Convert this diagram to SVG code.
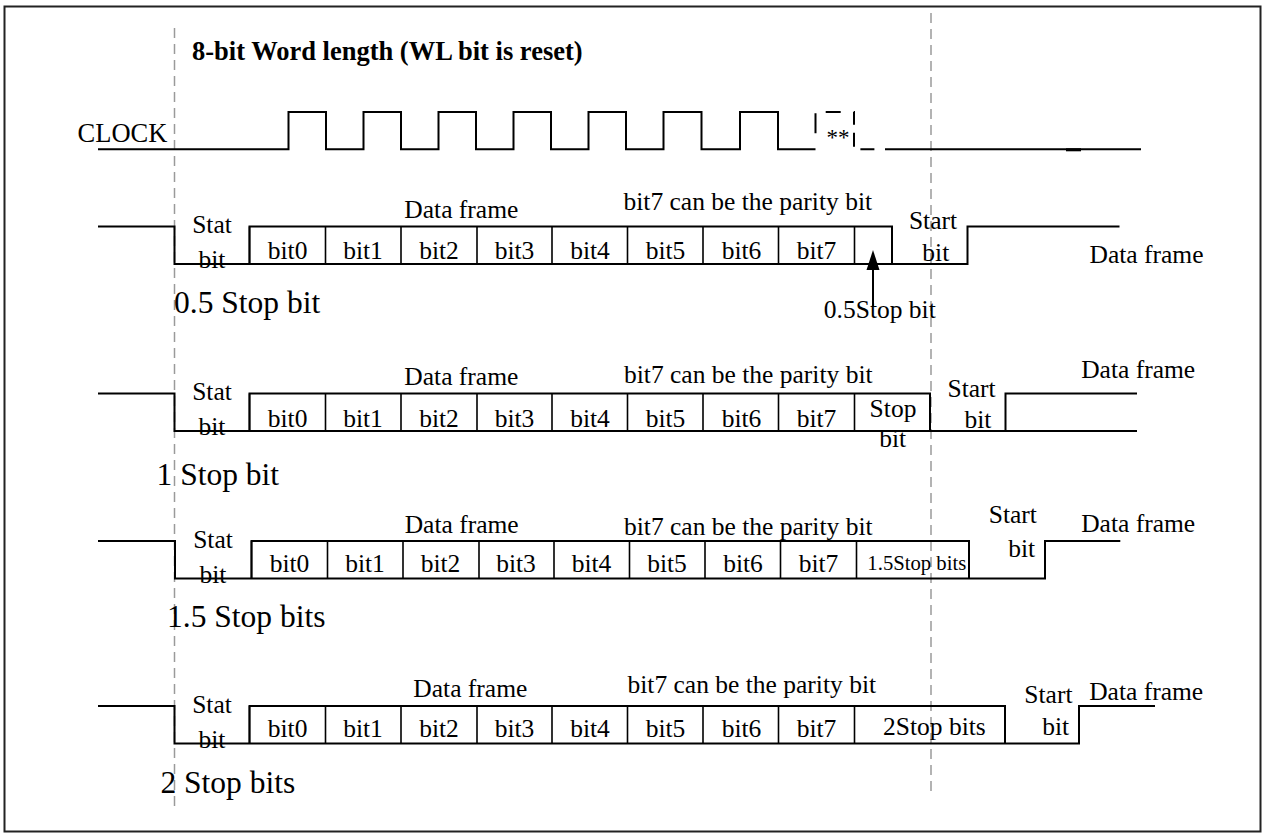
<svg xmlns="http://www.w3.org/2000/svg" width="1266" height="834" viewBox="0 0 1266 834">
<style>
.frame{fill:#fff;stroke:#222;stroke-width:2}
.w{fill:none;stroke:#000;stroke-width:2}
.d{fill:none;stroke:#000;stroke-width:1.6}
.g{fill:none;stroke:#9a9a9a;stroke-width:1.5;stroke-dasharray:10 6}
text{font-family:"Liberation Serif","Times New Roman",serif;fill:#000}
.t{font-size:25.5px}
.c{text-anchor:middle}
.L{font-size:31.5px}
.s{font-size:20.7px}
.h{font-size:26.5px;font-weight:bold}
</style>
<defs>
<path id="div8" d="M0,0 v37.5 M76,0 v37.5 M151.5,0 v37.5 M227.5,0 v37.5 M302.5,0 v37.5 M378,0 v37.5 M453.5,0 v37.5 M529,0 v37.5 M605,0 v37.5" class="d"/>
</defs>
<rect class="frame" x="4.5" y="6.5" width="1256" height="825"/>

<g id="guides">
<line class="g" x1="174.5" y1="28" x2="174.5" y2="809"/>
<line class="g" x1="931" y1="13" x2="931" y2="795"/>
</g>

<g id="title">
<text class="h" x="192" y="60">8-bit Word length (WL bit is reset)</text>
</g>

<g id="clock">
<text x="77.6" y="141.7" style="font-size:26.5px">CLOCK</text>
<path class="w" d="M98,149.3 H288.5 V112 H326 V149.3 H363.5 V112 H401 V149.3 H438.5 V112 H476 V149.3 H513.5 V112 H551 V149.3 H588.5 V112 H626 V149.3 H663.5 V112 H701.5 V149.3 H740 V112 H778 V149.3 H815.5"/>
<path class="w" d="M815.5,149.3 V112 H854 V149.3 H876" stroke-dasharray="0 16 20 11.5 15 13 13 8 14 9 14 60"/>
<text x="826.5" y="145" style="font-size:23px">**</text>
<path class="w" d="M885,149.3 H1141"/>
<line x1="1066" y1="149.8" x2="1081" y2="149.8" stroke="#000" stroke-width="3"/>
</g>

<g id="row1">
<path class="w" d="M98,226.5 H174.5 V264 H967.5 V226.5 H1119.5"/>
<path class="w" d="M249.5,264 V226.5 H892 V264"/>
<use href="#div8" x="249.5" y="226.5"/>
<text class="t c" x="212" y="233">Stat</text>
<text class="t c" x="212" y="268">bit</text>
<text class="t c" x="287.6" y="259">bit0</text>
<text class="t c" x="363" y="259">bit1</text>
<text class="t c" x="439" y="259">bit2</text>
<text class="t c" x="514.5" y="259">bit3</text>
<text class="t c" x="590" y="259">bit4</text>
<text class="t c" x="665.5" y="259">bit5</text>
<text class="t c" x="741.5" y="259">bit6</text>
<text class="t c" x="816.5" y="259">bit7</text>
<text class="t c" x="461.3" y="218.3">Data frame</text>
<text class="t" x="623.5" y="210">bit7 can be the parity bit</text>
<text class="t c" x="933" y="229.3">Start</text>
<text class="t c" x="935.8" y="260.7">bit</text>
<text class="t c" x="1146.5" y="263.3">Data frame</text>
<text class="L" x="174" y="313">0.5 Stop bit</text>
<text class="t c" x="879.8" y="318.3">0.5Stop bit</text>
</g>

<g id="row2">
<path class="w" d="M98,393.5 H174.5 V431 H1005.5 V393.5 H1137 M1005.5,431 H1137"/>
<path class="w" d="M249.5,431 V393.5 H930 V431"/>
<use href="#div8" x="249.5" y="393.5"/>
<text class="t c" x="212" y="400">Stat</text>
<text class="t c" x="212" y="435">bit</text>
<text class="t c" x="287.6" y="426.7">bit0</text>
<text class="t c" x="363" y="426.7">bit1</text>
<text class="t c" x="439" y="426.7">bit2</text>
<text class="t c" x="514.5" y="426.7">bit3</text>
<text class="t c" x="590" y="426.7">bit4</text>
<text class="t c" x="665.5" y="426.7">bit5</text>
<text class="t c" x="741.5" y="426.7">bit6</text>
<text class="t c" x="816.5" y="426.7">bit7</text>
<text class="t c" x="461.3" y="385">Data frame</text>
<text class="t" x="624" y="383.3">bit7 can be the parity bit</text>
<text class="t c" x="893" y="417.3">Stop</text>
<text class="t c" x="892.6" y="446.7">bit</text>
<text class="t c" x="971.6" y="396.7">Start</text>
<text class="t c" x="978" y="428.3">bit</text>
<text class="t c" x="1138.2" y="378.3">Data frame</text>
<text class="L" x="156.5" y="485">1 Stop bit</text>
</g>

<g id="row3">
<path class="w" d="M98,541 H175 V578.5 H1045 V541 H1120.3"/>
<path class="w" d="M251.5,578.5 V541 H969 V578.5"/>
<use href="#div8" x="251.5" y="541"/>
<text class="t c" x="213" y="547.5">Stat</text>
<text class="t c" x="213" y="582.5">bit</text>
<text class="t c" x="289.5" y="571.7">bit0</text>
<text class="t c" x="365" y="571.7">bit1</text>
<text class="t c" x="440.5" y="571.7">bit2</text>
<text class="t c" x="516" y="571.7">bit3</text>
<text class="t c" x="591.5" y="571.7">bit4</text>
<text class="t c" x="667" y="571.7">bit5</text>
<text class="t c" x="743" y="571.7">bit6</text>
<text class="t c" x="818.5" y="571.7">bit7</text>
<text class="t c" x="461.7" y="533.3">Data frame</text>
<text class="t" x="624" y="535">bit7 can be the parity bit</text>
<text class="s c" x="916.8" y="570">1.5Stop bits</text>
<text class="t c" x="1012.8" y="523.3">Start</text>
<text class="t c" x="1021.6" y="556.7">bit</text>
<text class="t c" x="1138.2" y="531.7">Data frame</text>
<text class="L" x="167" y="626.7">1.5 Stop bits</text>
</g>

<g id="row4">
<path class="w" d="M98,706 H174.5 V743.5 H1079 V706 H1155"/>
<path class="w" d="M249.5,743.5 V706 H1005 V743.5"/>
<use href="#div8" x="249.5" y="706"/>
<text class="t c" x="212" y="712.5">Stat</text>
<text class="t c" x="212" y="747.5">bit</text>
<text class="t c" x="287.6" y="737.3">bit0</text>
<text class="t c" x="363" y="737.3">bit1</text>
<text class="t c" x="439" y="737.3">bit2</text>
<text class="t c" x="514.5" y="737.3">bit3</text>
<text class="t c" x="590" y="737.3">bit4</text>
<text class="t c" x="665.5" y="737.3">bit5</text>
<text class="t c" x="741.5" y="737.3">bit6</text>
<text class="t c" x="816.5" y="737.3">bit7</text>
<text class="t c" x="470.3" y="696.7">Data frame</text>
<text class="t" x="627.5" y="693.3">bit7 can be the parity bit</text>
<text class="t c" x="934.4" y="735">2Stop bits</text>
<text class="t c" x="1048.4" y="703.3">Start</text>
<text class="t c" x="1055.7" y="735">bit</text>
<text class="t c" x="1146.2" y="700">Data frame</text>
<text class="L" x="160.4" y="793.3">2 Stop bits</text>
</g>

<g id="connectors">
<line x1="873" y1="306.7" x2="873" y2="266" stroke="#000" stroke-width="2"/>
<polygon points="873,250 866.5,270 879.5,270" fill="#000"/>
</g>
</svg>
